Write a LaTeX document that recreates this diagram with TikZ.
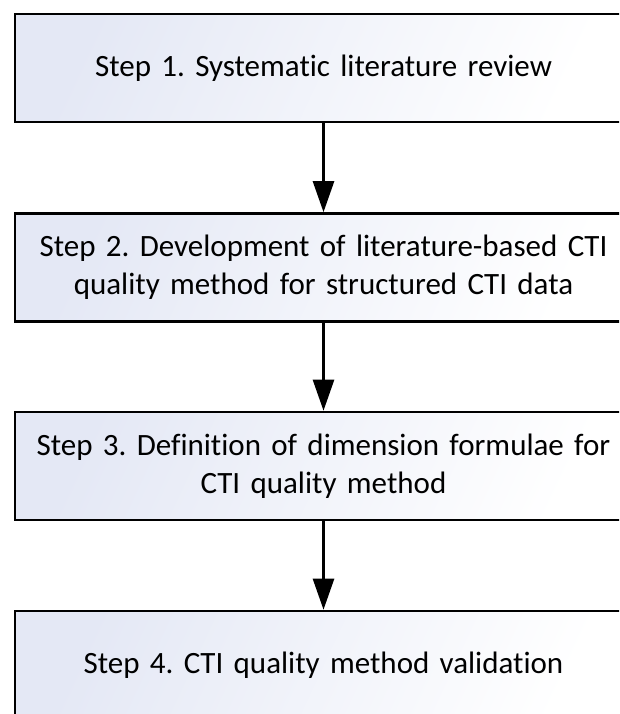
\documentclass[tikz,border=0pt]{standalone}
\usepackage{fontspec}
\setmainfont{Carlito}[Ligatures={NoCommon,NoRare}]
\frenchspacing
\usetikzlibrary{arrows.meta}
\definecolor{boxtop}{RGB}{228,232,245}
\tikzset{
  stepbox/.style={draw=black, line width=2.6pt, minimum width=617pt, minimum height=108pt,
    top color=boxtop, bottom color=white, shading angle=65,
    align=center, text width=600pt, inner sep=0pt,
    font=\fontsize{31pt}{38pt}\selectfont},
  flow/.style={line width=2.6pt, -{Triangle[width=21pt,length=31pt]}}
}
\begin{document}
\begin{tikzpicture}[x=1pt,y=-1pt]
\useasboundingbox (0,0) rectangle (619,714);
\clip (0,0) rectangle (619,714);
\node[stepbox] (s1) at (323.5,68) {Step 1. Systematic literature review};
\node[stepbox] (s2) at (323.5,267.5) {Step 2. Development of literature-based CTI\\quality method for structured CTI data};
\node[stepbox] (s3) at (323.5,466) {Step 3. Definition of dimension formulae for\\CTI quality method};
\node[stepbox] (s4) at (323.5,665) {Step 4. CTI quality method validation};
\draw[flow] (s1) -- (s2);
\draw[flow] (s2) -- (s3);
\draw[flow] (s3) -- (s4);
\end{tikzpicture}
\end{document}
